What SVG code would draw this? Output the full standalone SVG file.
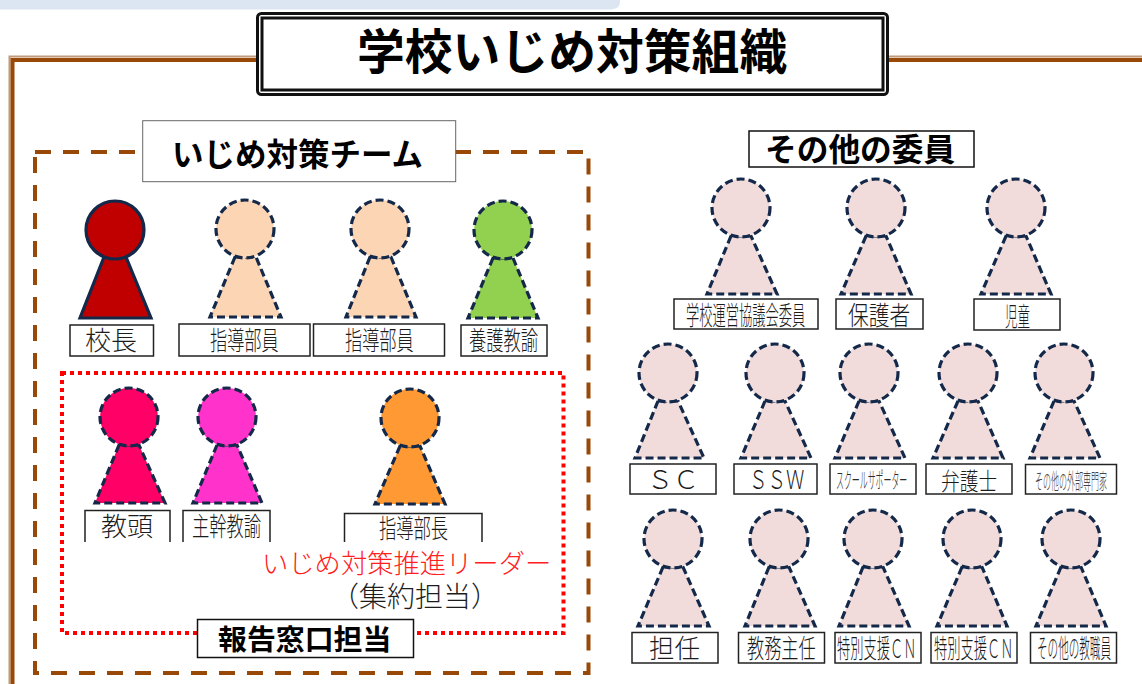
<svg xmlns="http://www.w3.org/2000/svg" width="1142" height="684" viewBox="0 0 1142 684">
<style>
text{font-family:"Noto Sans CJK JP","Noto Sans CJK SC",sans-serif}
.fig polygon,.fig circle{stroke:#14294a;stroke-width:3.200;stroke-linejoin:miter}
.dash polygon,.dash circle{stroke-dasharray:8 4}
.peach{fill:#fcd5b5}.pale{fill:#f2dcdb}.green{fill:#92d050}.red{fill:#c00000}.rose{fill:#ff0066}.pink{fill:#ff33cc}.orange{fill:#ff9933}
.box{fill:#fff;stroke:#222;stroke-width:1.5}
.lab{font-size:26px;fill:#1c1c1c;font-weight:300}
.mid{font-size:24px;fill:#1c1c1c;font-weight:300}
.small{font-size:22px;fill:#2a2a2a;font-weight:300}
.head{font-weight:700;fill:#000}
.frame{fill:none;stroke:#984807;stroke-width:4}
.frameL{fill:none;stroke:#c29a78;stroke-width:2}
</style>
<path d="M0 0H620V2Q620 9.500 608 9.500H0Z" fill="#dce6f2"/>
<g id="frame">
<path class="frameL" d="M258 56.500H9.500V684M888 56.500H1142"/>
<path class="frame" d="M258 60H12.500V684M886 60H1142"/>
</g>
<g id="team-frame">
<rect x="35" y="152" width="553.500" height="521" fill="none" stroke="#984807" stroke-width="4" stroke-dasharray="16 12"/>
<rect x="62" y="373" width="501.500" height="260" fill="none" stroke="#f00" stroke-width="4" stroke-dasharray="4 4"/>
</g>
<g id="title">
<rect x="257.500" y="13.500" width="630" height="81" rx="4" fill="#fff" stroke="#111" stroke-width="3"/>
<rect x="262" y="18" width="621" height="72" fill="#fff" stroke="#111" stroke-width="3"/>
<text class="head" x="357" y="69" font-size="47.800">学校いじめ対策組織</text>
</g>
<g id="team-title">
<rect x="142.700" y="120.700" width="313" height="61" fill="#fff" stroke="#666" stroke-width="1"/>
<text class="head" x="172" y="166" font-size="31.500">いじめ対策チーム</text>
</g>
<g id="other-title">
<rect x="749" y="131" width="225" height="36" fill="#fff" stroke="#111" stroke-width="1.500"/>
<text class="head" x="765" y="161" font-size="31.700">その他の委員</text>
</g>
<g id="report-title">
<rect x="197.500" y="619.500" width="216" height="38" fill="#fff" stroke="#111" stroke-width="1.500"/>
<text class="head" x="218" y="650" font-size="28.900">報告窓口担当</text>
</g>

<g id="n-kocho"><g class="fig red"><polygon points="104,257 80,318 151,318 126,257"/><circle cx="115" cy="230" r="29"/></g><rect class="box" x="70" y="325" width="83.500" height="31"/><text class="lab" transform="translate(85 350)">校長</text></g>
<g id="n-shido1"><g class="fig dash peach"><polygon points="235,257 210,317 281,317 256,257"/><circle cx="245" cy="229" r="29"/></g><rect class="box" x="179" y="324" width="131" height="32"/><text class="lab" transform="translate(210 350) scale(.66 1)">指導部員</text></g>
<g id="n-shido2"><g class="fig dash peach"><polygon points="370,257 346,317 416,317 391,257"/><circle cx="380" cy="229" r="29"/></g><rect class="box" x="313.500" y="324" width="131" height="32"/><text class="lab" transform="translate(345 350) scale(.66 1)">指導部員</text></g>
<g id="n-yogo"><g class="fig dash green"><polygon points="493,258 468,318 538,318 513,258"/><circle cx="503" cy="230" r="29"/></g><rect class="box" x="461" y="325" width="86" height="31"/><text class="lab" transform="translate(469 350) scale(.665 1)">養護教諭</text></g>

<g id="n-kyoto"><g class="fig dash rose"><polygon points="119,445 95,503 165,503 139,445"/><circle cx="129" cy="417" r="29"/></g><path class="box" d="M85 542V510.500H170V542"/><text class="lab" transform="translate(101 536)">教頭</text></g>
<g id="n-shukan"><g class="fig dash pink"><polygon points="217,445 193,503 262,503 237,445"/><circle cx="227" cy="417" r="29"/></g><path class="box" d="M183 542V510.500H270V542"/><text class="lab" transform="translate(192 536) scale(.665 1)">主幹教諭</text></g>
<g id="n-shidocho"><g class="fig dash orange"><polygon points="400,446 375,504 445,504 420,446"/><circle cx="410" cy="418" r="29"/></g><path class="box" d="M344.500 542V513.500H482V542"/><text class="lab" transform="translate(379 538) scale(.665 1)">指導部長</text></g>
<text id="t-leader" x="262" y="573" style="font-size:26.300px;fill:#ff2020;font-weight:300">いじめ対策推進リーダー</text>
<text id="t-shuyaku" x="331" y="607" style="font-size:28px;fill:#1c1c1c;font-weight:300">（集約担当）</text>

<g id="n-r1a"><g class="fig dash pale"><polygon points="731,236 707,294 777,294 751,236"/><circle cx="741" cy="208" r="29"/></g><rect class="box" x="674" y="299" width="144" height="30"/><text class="lab" transform="translate(686 325) scale(.51 1)">学校運営協議会委員</text></g>
<g id="n-r1b"><g class="fig dash pale"><polygon points="866,236 841,294 911,294 886,236"/><circle cx="876" cy="208" r="29"/></g><rect class="box" x="836" y="299" width="87" height="30"/><text class="lab" transform="translate(848 325) scale(.8 1)">保護者</text></g>
<g id="n-r1c"><g class="fig dash pale"><polygon points="1006,236 981,294 1051,294 1026,236"/><circle cx="1016" cy="208" r="29"/></g><rect class="box" x="974" y="299" width="86" height="31"/><text class="lab" transform="translate(1005 326) scale(.48 1)">児童</text></g>

<g id="n-r2a"><g class="fig dash pale"><polygon points="658,401 635,458 704,458 678,401"/><circle cx="668" cy="373" r="29"/></g><rect class="box" x="630" y="464" width="86" height="30"/><text class="lab" transform="translate(647 489)">ＳＣ</text></g>
<g id="n-r2b"><g class="fig dash pale"><polygon points="765,401 741,458 811,458 785,401"/><circle cx="775" cy="373" r="29"/></g><rect class="box" x="734" y="464" width="83" height="30"/><text class="lab" transform="translate(749 489) scale(.71 1)">ＳＳＷ</text></g>
<g id="n-r2c"><g class="fig dash pale"><polygon points="859,401 835,458 905,458 879,401"/><circle cx="869" cy="373" r="29"/></g><rect class="box" x="830" y="464" width="86" height="30"/><text class="small" transform="translate(836 488) scale(.36 1)">スクールサポーター</text></g>
<g id="n-r2d"><g class="fig dash pale"><polygon points="958,401 933,458 1003,458 978,401"/><circle cx="968" cy="373" r="29"/></g><rect class="box" x="926" y="464" width="86" height="30"/><text class="mid" transform="translate(941 490) scale(.78 1)">弁護士</text></g>
<g id="n-r2e"><g class="fig dash pale"><polygon points="1054,401 1030,458 1100,458 1074,401"/><circle cx="1064" cy="373" r="29"/></g><rect class="box" x="1025.500" y="464.500" width="91" height="29.500"/><text class="small" transform="translate(1035 489) scale(.364 1)" style="fill:#444">その他の外部専門家</text></g>

<g id="n-r3a"><g class="fig dash pale"><polygon points="663,567 638,626 709,626 683,567"/><circle cx="673" cy="539" r="29"/></g><rect class="box" x="632" y="632.500" width="86" height="30.500"/><text class="lab" transform="translate(649 658) scale(.98 1)">担任</text></g>
<g id="n-r3b"><g class="fig dash pale"><polygon points="769,567 745,626 815,626 789,567"/><circle cx="779" cy="539" r="29"/></g><rect class="box" x="738.500" y="632.500" width="86" height="30.500"/><text class="lab" transform="translate(747 658) scale(.66 1)">教務主任</text></g>
<g id="n-r3c"><g class="fig dash pale"><polygon points="863,567 839,626 909,626 883,567"/><circle cx="873" cy="539" r="29"/></g><rect class="box" x="835" y="632.500" width="86" height="30.500"/><text class="lab" transform="translate(837 658) scale(.51 1)">特別支援ＣＮ</text></g>
<g id="n-r3d"><g class="fig dash pale"><polygon points="962,567 937,626 1007,626 982,567"/><circle cx="972" cy="539" r="29"/></g><rect class="box" x="931" y="632.500" width="86" height="30.500"/><text class="lab" transform="translate(934 658) scale(.51 1)">特別支援ＣＮ</text></g>
<g id="n-r3e"><g class="fig dash pale"><polygon points="1061,567 1036,626 1106,626 1081,567"/><circle cx="1071" cy="539" r="29"/></g><rect class="box" x="1030.500" y="632.500" width="86" height="30.500"/><text class="lab" transform="translate(1037 658) scale(.407 1)">その他の教職員</text></g>
<g id="connectors"/>
</svg>
